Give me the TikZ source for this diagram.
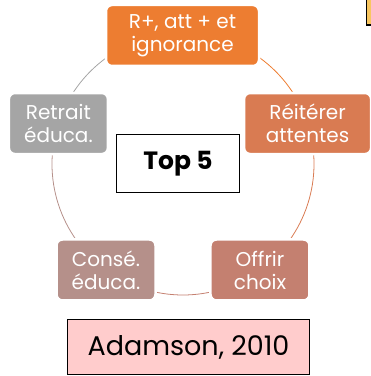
\documentclass[tikz,border=0pt]{standalone}
\usepackage{fontspec}
\setmainfont{Poppins}
\definecolor{cTop}{HTML}{ED7D31}
\definecolor{cReit}{HTML}{D97B52}
\definecolor{cOffr}{HTML}{C48070}
\definecolor{cCons}{HTML}{B5908A}
\definecolor{cRetr}{HTML}{A5A5A5}
\definecolor{cAdam}{HTML}{FFCCCC}
\definecolor{cNote}{HTML}{F8C660}

\begin{document}
\begin{tikzpicture}[x=1pt,y=1pt,
  step box/.style={rounded corners=6pt, draw=white, line width=2.5pt, text=white,
    align=center, inner sep=0pt, minimum height=61pt,
    font=\fontsize{20}{23}\selectfont},
  ring/.style={line width=0.8pt}]
\useasboundingbox (0,0) rectangle (371,376);

\coordinate (ctr) at (183,212);

% ring of the cycle
\draw[ring, cTop]  ([shift={(90:131)}]ctr)  arc (90:18:131);
\draw[ring, cReit] ([shift={(18:131)}]ctr)  arc (18:-54:131);
\draw[ring, cOffr] ([shift={(-54:131)}]ctr) arc (-54:-126:131);
\draw[ring, cCons] ([shift={(-126:131)}]ctr) arc (-126:-198:131);
\draw[ring, cRetr] ([shift={(162:131)}]ctr) arc (162:90:131);

% steps
\node (renf) [step box, fill=cTop, minimum width=153pt] at (182.5,340.5) {R+, att + et\\ignorance};
\node (reit) [step box, fill=cReit, minimum width=127pt] at ([shift={(18:131)}]ctr) {Réitérer\\attentes};
\node (offr) [step box, fill=cOffr, minimum width=99pt] at ([shift={(-54:131)}]ctr) {Offrir\\choix};
\node (cons) [step box, fill=cCons, minimum width=99pt] at ([shift={(-126:131)}]ctr) {Consé.\\éduca.};
\node (retr) [step box, fill=cRetr, minimum width=99pt] at ([shift={(162:131)}]ctr) {Retrait\\éduca.};

% middle and source
\node (top) [draw=black, line width=1.5pt, fill=white, minimum width=123pt, minimum height=58pt,
  font=\fontsize{25}{28}\selectfont\bfseries] at (178,212.5) {Top 5};
\node (adam) [draw=black, line width=1.3pt, fill=cAdam, minimum width=242pt, minimum height=55pt,
  font=\fontsize{27}{30}\selectfont] at (188.5,29) {Adamson, 2010};

\fill[cNote, draw=black, line width=1.3pt] (366.5,351) rectangle (380,380);
\end{tikzpicture}
\end{document}
